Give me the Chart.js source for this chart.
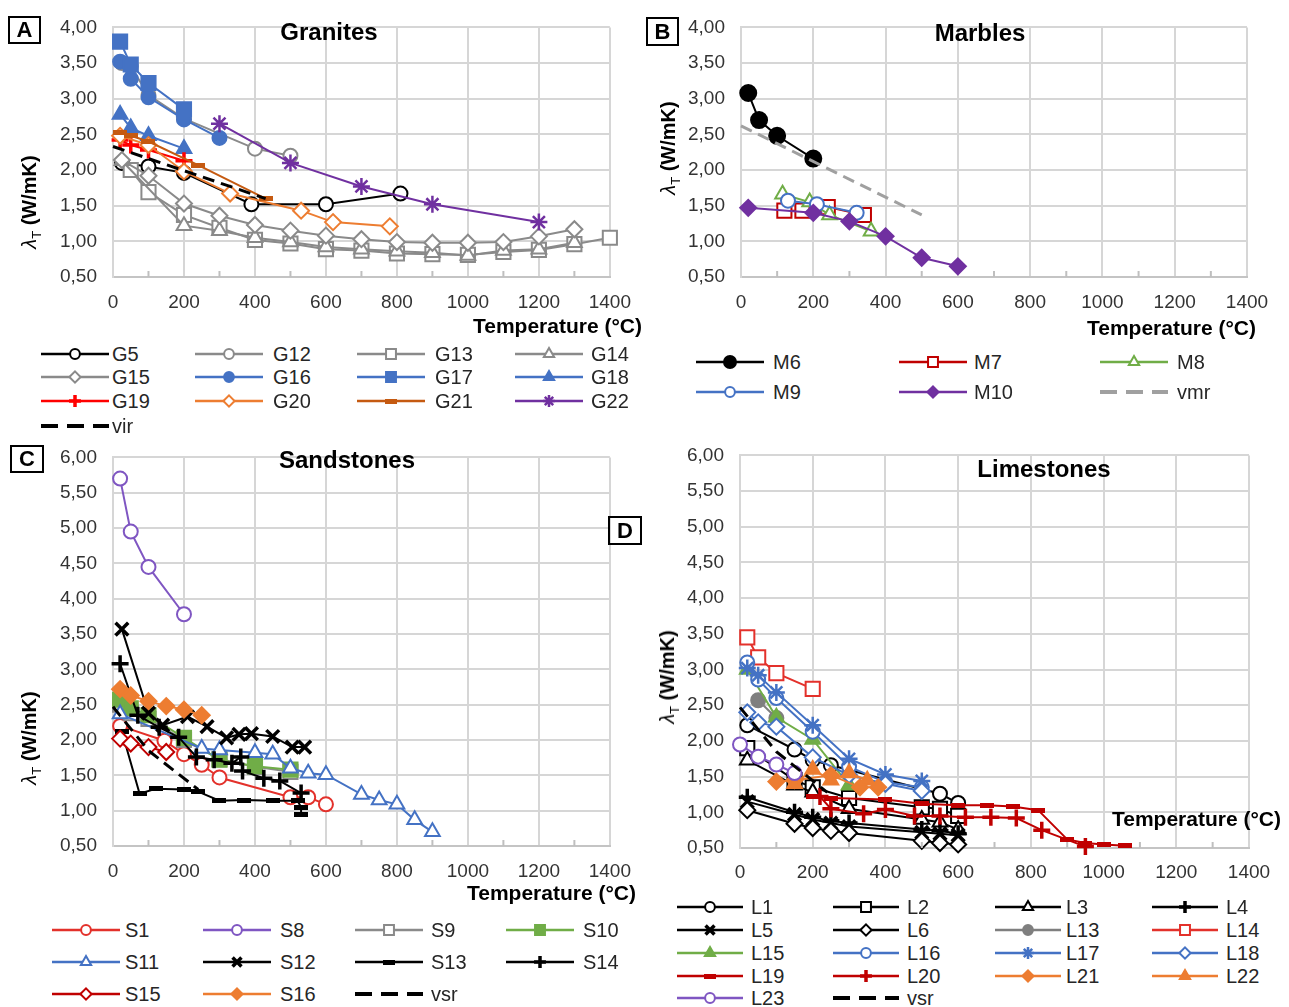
<!DOCTYPE html>
<html><head><meta charset="utf-8">
<script src="https://cdn.jsdelivr.net/npm/chart.js@4.4.1/dist/chart.umd.min.js"></script>
<style>
html,body{margin:0;padding:0;background:#fff;}
body{width:1289px;height:1007px;position:relative;overflow:hidden;font-family:'Liberation Sans',Arial,Helvetica,sans-serif;}
canvas{position:absolute;}
.t{position:absolute;white-space:nowrap;color:#000;}
.ptitle{font-weight:bold;font-size:24px;transform:translate(-50%,-50%);}
.xtitle{font-weight:bold;font-size:21px;transform:translate(-100%,-50%);}
.ytitle{font-weight:bold;font-size:20px;transform:translate(-50%,-50%) rotate(-90deg);}
.ytitle .lam{font-weight:normal;font-style:italic;}
.ytitle sub{font-size:13px;font-weight:normal;}
.box{position:absolute;border:2px solid #000;font-weight:bold;font-size:22px;text-align:center;box-sizing:border-box;}
.lt{font-size:20px;color:#262626;transform:translateY(-50%);}
</style>
</head><body>
<script>
// ---------------- DATA (temperature °C, thermal conductivity W/mK) ----------------
const xTicks = [0, 200, 400, 600, 800, 1000, 1200, 1400];
const yTicksAB = [0.5, 1, 1.5, 2, 2.5, 3, 3.5, 4];
const yTicksCD = [0.5, 1, 1.5, 2, 2.5, 3, 3.5, 4, 4.5, 5, 5.5, 6];

// A — Granites
const G5  = [[25,2.10],[100,2.05],[200,1.96],[390,1.52],[600,1.52],[810,1.67]];
const G12 = [[25,3.50],[50,3.45],[100,3.05],[200,2.72],[400,2.30],[500,2.20]];
const G13 = [[50,2.00],[100,1.69],[200,1.37],[300,1.19],[400,1.02],[500,0.97],[600,0.89],[700,0.87],[800,0.83],[900,0.82],[1000,0.81],[1100,0.85],[1200,0.88],[1300,0.96],[1400,1.05]];
const G14 = [[25,2.13],[200,1.22],[300,1.15],[400,1.05],[500,0.99],[600,0.92],[700,0.89],[800,0.86],[900,0.84],[1000,0.80],[1100,0.87],[1200,0.89],[1300,0.98]];
const G15 = [[25,2.14],[100,1.92],[200,1.53],[300,1.36],[400,1.23],[500,1.15],[600,1.08],[700,1.03],[800,0.99],[900,0.98],[1000,0.98],[1100,0.99],[1200,1.07],[1300,1.17]];
const G16 = [[20,3.52],[50,3.28],[100,3.02],[200,2.71],[300,2.45]];
const G17 = [[20,3.80],[50,3.48],[100,3.22],[200,2.85]];
const G18 = [[20,2.78],[50,2.59],[100,2.48],[200,2.30]];
const G19 = [[20,2.42],[50,2.35],[100,2.28],[200,2.13]];
const G20 = [[20,2.48],[100,2.35],[200,1.98],[330,1.67],[530,1.43],[620,1.27],[780,1.21]];
const G21 = [[20,2.52],[50,2.48],[100,2.40],[240,2.07],[430,1.60]];
const G22 = [[300,2.65],[500,2.10],[700,1.77],[900,1.52],[1200,1.27]];
const vir = [[0,2.33],[430,1.60]];

// B — Marbles
const M6  = [[20,3.08],[50,2.70],[100,2.48],[200,2.16]];
const M7  = [[120,1.43],[170,1.43],[240,1.48],[340,1.37]];
const M8  = [[115,1.66],[190,1.55],[245,1.37],[360,1.14]];
const M9  = [[130,1.57],[210,1.52],[320,1.40]];
const M10 = [[20,1.47],[200,1.40],[300,1.28],[400,1.07],[500,0.77],[600,0.65]];
const vmr = [[0,2.62],[500,1.37]];

// C — Sandstones
const S1  = [[20,2.20],[145,1.99],[200,1.80],[250,1.65],[300,1.47],[500,1.19],[550,1.19],[600,1.09]];
const S8  = [[20,5.70],[50,4.95],[100,4.45],[200,3.78]];
const S9  = [[20,2.50],[50,2.38],[100,2.30],[200,2.00],[300,1.73],[400,1.62],[500,1.55]];
const S10 = [[20,2.57],[50,2.45],[100,2.35],[200,2.03],[300,1.72],[400,1.63],[500,1.58]];
const S11 = [[20,2.37],[250,1.88],[300,1.86],[400,1.82],[450,1.80],[500,1.60],[550,1.53],[600,1.51],[700,1.23],[750,1.15],[800,1.09],[850,0.87],[900,0.70]];
const S12 = [[25,3.57],[100,2.38],[140,2.21],[210,2.33],[265,2.19],[320,2.03],[355,2.08],[390,2.09],[450,2.05],[505,1.90],[540,1.90]];
const S13 = [[25,2.12],[75,1.24],[120,1.31],[200,1.30],[240,1.27],[300,1.14],[370,1.15],[450,1.14],[520,1.14],[530,1.05],[530,0.95]];
const S14 = [[20,3.08],[70,2.35],[130,2.18],[185,2.04],[235,1.76],[285,1.72],[335,1.67],[360,1.76],[365,1.56],[425,1.46],[470,1.42],[530,1.25]];
const S15 = [[20,2.02],[50,1.95],[100,1.90],[150,1.83]];
const S16 = [[20,2.72],[50,2.63],[100,2.55],[150,2.48],[200,2.43],[250,2.35]];
const vsrC = [[0,2.47],[100,1.85],[240,1.30]];

// D — Limestones
const L1  = [[20,2.22],[150,1.88],[200,1.73],[250,1.66],[550,1.26],[600,1.13]];
const L2  = [[20,1.90],[150,1.45],[200,1.35],[300,1.20],[500,1.07],[550,1.05],[600,0.95]];
const L3  = [[20,1.73],[150,1.38],[200,1.28],[300,1.05],[500,0.90],[550,0.86],[600,0.76]];
const L4  = [[20,1.21],[150,1.00],[200,0.93],[250,0.88],[300,0.85],[500,0.76],[550,0.74],[600,0.70]];
const L5  = [[20,1.15],[150,0.97],[200,0.90],[250,0.85],[300,0.80],[500,0.72],[550,0.70],[600,0.68]];
const L6  = [[20,1.03],[150,0.84],[200,0.78],[250,0.74],[300,0.71],[500,0.60],[550,0.57],[600,0.55]];
const L13 = [[50,2.57],[100,2.32]];
const L14 = [[20,3.45],[50,3.17],[100,2.95],[200,2.73]];
const L15 = [[20,3.00],[100,2.33],[200,2.02],[300,1.38]];
const L16 = [[20,3.10],[50,2.86],[100,2.60],[200,2.13],[300,1.64],[400,1.42],[500,1.35]];
const L17 = [[20,3.02],[50,2.92],[100,2.68],[200,2.22],[300,1.75],[400,1.53],[500,1.44]];
const L18 = [[20,2.40],[50,2.26],[100,2.20],[200,1.77],[300,1.52],[400,1.40],[500,1.30]];
const L19 = [[200,1.22],[250,1.20],[400,1.18],[500,1.12],[600,1.10],[680,1.10],[750,1.08],[820,1.03],[900,0.62],[950,0.57],[1000,0.55],[1060,0.53]];
const L20 = [[220,1.22],[250,1.05],[340,0.98],[400,1.04],[480,0.95],[550,0.95],[620,0.93],[690,0.93],[760,0.92],[830,0.75],[950,0.52]];
const L21 = [[100,1.43],[150,1.45],[250,1.52],[330,1.35],[380,1.35]];
const L22 = [[150,1.40],[200,1.60],[250,1.45],[300,1.55],[350,1.45]];
const L23 = [[0,1.95],[50,1.78],[100,1.67],[150,1.55]];
const vsrD = [[0,2.47],[100,1.85],[240,1.28]];

// ---------------- STYLES ----------------
const BLACK='#000000', GREY='#8a8a8a', BLUE='#4472c4', RED='#ff0000', ORANGE='#ed7d31',
      BROWN='#c55a11', PURPLE='#7030a0', GREEN='#70ad47', DRED='#c00000', LRED='#e3312b', LPURP='#7f56c2', DGREY='#7f7f7f', VGREY='#a0a0a0';

const seriesA = [
  {name:'G5', data:G5, color:BLACK, marker:'circle', open:true},
  {name:'G12', data:G12, color:GREY, marker:'circle', open:true},
  {name:'G13', data:G13, color:GREY, marker:'rect', open:true},
  {name:'G14', data:G14, color:GREY, marker:'triangle', open:true},
  {name:'G15', data:G15, color:GREY, marker:'rectRot', open:true},
  {name:'G16', data:G16, color:BLUE, marker:'circle'},
  {name:'G17', data:G17, color:BLUE, marker:'rect'},
  {name:'G18', data:G18, color:BLUE, marker:'triangle'},
  {name:'G19', data:G19, color:RED, marker:'cross'},
  {name:'G20', data:G20, color:ORANGE, marker:'rectRot', open:true},
  {name:'G21', data:G21, color:BROWN, marker:'bar'},
  {name:'G22', data:G22, color:PURPLE, marker:'star'},
  {name:'vir', data:vir, color:BLACK, marker:'none', dash:true, lw:3}
];
const seriesB = [
  {name:'M6', data:M6, color:BLACK, marker:'circle', big:true},
  {name:'M7', data:M7, color:DRED, marker:'rect', open:true},
  {name:'M8', data:M8, color:GREEN, marker:'triangle', open:true},
  {name:'M9', data:M9, color:BLUE, marker:'circle', open:true},
  {name:'M10', data:M10, color:PURPLE, marker:'rectRot'},
  {name:'vmr', data:vmr, color:VGREY, marker:'none', dash:true, lw:3}
];
const seriesC = [
  {name:'S1', data:S1, color:LRED, marker:'circle', open:true},
  {name:'S8', data:S8, color:LPURP, marker:'circle', open:true},
  {name:'S9', data:S9, color:GREY, marker:'rect', open:true},
  {name:'S10', data:S10, color:GREEN, marker:'rect'},
  {name:'S11', data:S11, color:BLUE, marker:'triangle', open:true},
  {name:'S12', data:S12, color:BLACK, marker:'crossRot'},
  {name:'S13', data:S13, color:BLACK, marker:'bar'},
  {name:'S14', data:S14, color:BLACK, marker:'cross'},
  {name:'S15', data:S15, color:DRED, marker:'rectRot', open:true},
  {name:'S16', data:S16, color:ORANGE, marker:'rectRot'},
  {name:'vsr', data:vsrC, color:BLACK, marker:'none', dash:true, lw:3}
];
const seriesD = [
  {name:'L1', data:L1, color:BLACK, marker:'circle', open:true},
  {name:'L2', data:L2, color:BLACK, marker:'rect', open:true},
  {name:'L3', data:L3, color:BLACK, marker:'triangle', open:true},
  {name:'L4', data:L4, color:BLACK, marker:'cross'},
  {name:'L5', data:L5, color:BLACK, marker:'crossRot'},
  {name:'L6', data:L6, color:BLACK, marker:'rectRot', open:true},
  {name:'L13', data:L13, color:DGREY, marker:'circle'},
  {name:'L14', data:L14, color:LRED, marker:'rect', open:true},
  {name:'L15', data:L15, color:GREEN, marker:'triangle'},
  {name:'L16', data:L16, color:BLUE, marker:'circle', open:true},
  {name:'L17', data:L17, color:BLUE, marker:'star'},
  {name:'L18', data:L18, color:BLUE, marker:'rectRot', open:true},
  {name:'L19', data:L19, color:DRED, marker:'bar'},
  {name:'L20', data:L20, color:DRED, marker:'cross'},
  {name:'L21', data:L21, color:ORANGE, marker:'rectRot'},
  {name:'L22', data:L22, color:ORANGE, marker:'triangle'},
  {name:'L23', data:L23, color:LPURP, marker:'circle', open:true},
  {name:'vsr', data:vsrD, color:BLACK, marker:'none', dash:true, lw:3}
];

// ---------------- RENDERING ----------------
const FONT = "'Liberation Sans', Arial, Helvetica, sans-serif";
Chart.defaults.font.family = FONT;
Chart.defaults.font.size = 19;
Chart.defaults.color = '#333333';

const RADIUS = {circle:7, rect:10, triangle:8.5, rectRot:8, cross:8.5, crossRot:9, star:8.5, bar:6};
const barCache = {};
function barImg(color, w, h){
  const k = color+w+'x'+h;
  if(barCache[k]) return barCache[k];
  const c = document.createElement('canvas'); c.width=w; c.height=h;
  const x = c.getContext('2d'); x.fillStyle=color; x.fillRect(0,0,w,h);
  return barCache[k]=c;
}
function ptStyle(s, legend){
  if(s.marker==='bar') return legend ? barImg(s.color,12,5) : barImg(s.color,14,5);
  return s.marker;
}
function ptBW(s){ return (s.marker==='cross'||s.marker==='crossRot') ? 3.5 : (s.marker==='star'?2.5:2); }

const minorTicks = {
  id:'minorTicks',
  afterDatasetsDraw(chart){
    const xs = chart.scales.x, a = chart.chartArea, ctx = chart.ctx;
    ctx.save(); ctx.strokeStyle='#bfbfbf'; ctx.lineWidth=2;
    for(let v=100; v<1400; v+=200){
      const px = xs.getPixelForValue(v);
      ctx.beginPath(); ctx.moveTo(px, a.bottom); ctx.lineTo(px, a.bottom-6); ctx.stroke();
    }
    ctx.restore();
  }
};

function makePanel(cfg){
  const cv = document.createElement('canvas');
  cv.width = cfg.w; cv.height = cfg.h;
  cv.style.left = cfg.x+'px'; cv.style.top = cfg.y+'px';
  document.body.appendChild(cv);
  const n = cfg.series.length;
  const yw = cfg.area.l - cfg.x, xh = (cfg.y+cfg.h) - cfg.area.b;
  const yTicks = cfg.yTicks;
  new Chart(cv, {
    type:'scatter',
    data:{datasets: cfg.series.map((s,i)=>({
      label:s.name,
      data:s.data.map(p=>({x:p[0], y:p[1]})),
      showLine:true, tension:0,
      borderColor:s.color, borderWidth:s.lw||2,
      borderDash: s.dash ? [12,7] : [],
      pointStyle: s.marker==='none' ? 'circle' : ptStyle(s,false),
      pointRadius: s.marker==='none' ? 0 : (s.big ? 8 : RADIUS[s.marker]),
      pointHoverRadius: 0,
      pointBorderWidth: ptBW(s),
      pointBorderColor: s.color,
      pointBackgroundColor: s.open ? '#ffffff' : s.color,
      order: n - i,
      clip: false
    }))},
    options:{
      responsive:false, animation:false, devicePixelRatio:1, events:[],
      layout:{padding:{left:0, top:cfg.area.t-cfg.y, right:(cfg.x+cfg.w)-cfg.area.r, bottom:0}},
      plugins:{legend:{display:false}, tooltip:{enabled:false}},
      scales:{
        x:{type:'linear', min:xTicks[0], max:xTicks[xTicks.length-1],
          afterFit(s){ s.height = xh; },
          afterBuildTicks(s){ s.ticks = xTicks.map(v=>({value:v})); },
          ticks:{autoSkip:false, maxRotation:0, padding:cfg.xpad, callback:v=>String(v)},
          grid:{color:'#d6d6d6', lineWidth:2, drawTicks:false},
          border:{color:'#c4c4c4', width:2}},
        y:{type:'linear', min:yTicks[0], max:yTicks[yTicks.length-1],
          afterFit(s){ s.width = yw; },
          afterBuildTicks(s){ s.ticks = yTicks.map(v=>({value:v})); },
          ticks:{padding:16, callback:v=>Number(v).toFixed(2).replace('.',',')},
          grid:{color:'#d6d6d6', lineWidth:2, drawTicks:false},
          border:{color:'#d6d6d6', width:2}}
      }
    },
    plugins:[minorTicks]
  });
}

function addText(html, x, y, cls){
  const d = document.createElement('div');
  d.className = 't '+cls; d.innerHTML = html;
  d.style.left = x+'px'; d.style.top = y+'px';
  document.body.appendChild(d);
  return d;
}
function addBox(letter, x, y, w, h){
  const d = document.createElement('div');
  d.className='box'; d.textContent=letter;
  Object.assign(d.style,{left:x+'px',top:y+'px',width:w+'px',height:h+'px',lineHeight:(h-4)+'px'});
  document.body.appendChild(d);
}
function addLegend(series, lineX, textX, rowsY, len){
  const cols = lineX.length;
  series.forEach((s,i)=>{
    const r = Math.floor(i/cols), c = i%cols;
    const y = rowsY[r];
    const cv = document.createElement('canvas');
    cv.width = len; cv.height = 20;
    cv.style.left = lineX[c]+'px'; cv.style.top = (y-10)+'px';
    document.body.appendChild(cv);
    const ctx = cv.getContext('2d');
    ctx.strokeStyle = s.color; ctx.lineWidth = s.dash ? 4 : 2.5;
    ctx.setLineDash(s.dash ? [17,9] : []);
    ctx.beginPath(); ctx.moveTo(0,10); ctx.lineTo(len,10); ctx.stroke();
    ctx.setLineDash([]);
    if(s.marker!=='none'){
      ctx.fillStyle = s.open ? '#ffffff' : s.color;
      ctx.strokeStyle = s.color; ctx.lineWidth = ptBW(s);
      const rr = s.marker==='bar' ? 6 : (s.big ? 6 : RADIUS[s.marker]*0.7);
      Chart.helpers.drawPoint(ctx, {pointStyle:ptStyle(s,true), radius:rr, borderWidth:ptBW(s), rotation:0}, len/2, 10);
    }
    addText(s.name, textX[c], y, 'lt');
  });
}

const yTitle = '<span class="lam">λ</span><sub>T</sub> (W/mK)';

// Panel A
makePanel({x:0, y:0, w:645, h:335, area:{l:113,t:19,r:610,b:277}, yTicks:yTicksAB, series:seriesA, xpad:14});
// Panel B
makePanel({x:645, y:0, w:644, h:335, area:{l:741,t:19,r:1247,b:277}, yTicks:yTicksAB, series:seriesB, xpad:14});
// Panel C
makePanel({x:0, y:430, w:645, h:470, area:{l:113,t:449,r:611,b:846}, yTicks:yTicksCD, series:seriesC, xpad:14});
// Panel D
makePanel({x:645, y:428, w:644, h:470, area:{l:740,t:448,r:1249,b:848}, yTicks:yTicksCD, series:seriesD, xpad:13});

// Titles, axis titles, letter boxes
addText('Granites', 329, 32, 'ptitle');
addText('Marbles', 980, 33, 'ptitle');
addText('Sandstones', 347, 460, 'ptitle');
addText('Limestones', 1044, 469, 'ptitle');

addText('Temperature (°C)', 642, 326, 'xtitle');
addText('Temperature (°C)', 1256, 328, 'xtitle');
addText('Temperature (°C)', 636, 893, 'xtitle');
addText('Temperature (°C)', 1281, 819, 'xtitle');

addText(yTitle, 31, 202, 'ytitle');
addText(yTitle, 670, 148, 'ytitle');
addText(yTitle, 31, 738, 'ytitle');
addText(yTitle, 669, 677, 'ytitle');

addBox('A', 8, 16, 33, 28);
addBox('B', 646, 17, 33, 29);
addBox('C', 10, 445, 34, 28);
addBox('D', 608, 516, 34, 29);

// Legends
addLegend(seriesA, [41,195,357,515], [112,273,435,591], [354,377,401,426], 68);
addLegend(seriesB, [696,899,1100], [773,974,1177], [362,392], 68);
addLegend(seriesC, [52,203,355,506], [125,280,431,583], [930,962,994], 68);
addLegend(seriesD, [677,833,995,1152], [751,907,1066,1226], [907,930,953,976,998], 66);
</script>
</body></html>
